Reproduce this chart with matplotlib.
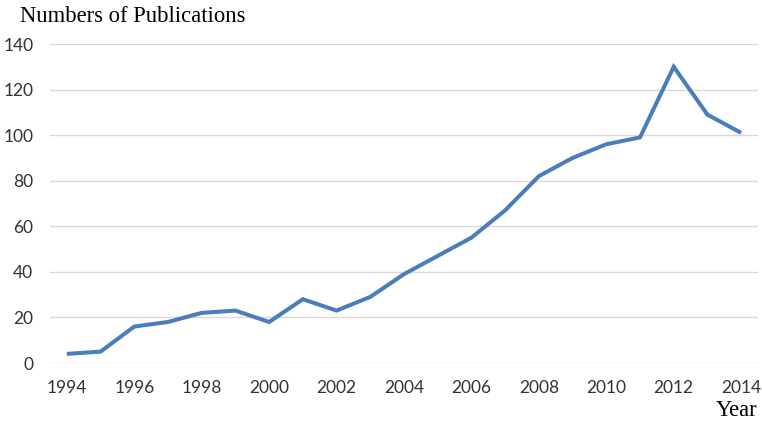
import matplotlib
matplotlib.use("Agg")
import matplotlib.pyplot as plt

years = list(range(1994, 2015))
publications = [4, 5, 16, 18, 22, 23, 18, 28, 23, 29, 39, 47, 55, 67, 82, 90, 96, 99, 130, 109, 101]
x_ticks = list(range(1994, 2015, 2))
y_ticks = list(range(0, 141, 20))

fig = plt.figure(figsize=(7.62, 4.22), dpi=100)
ax = fig.add_axes([50/762, 1-363/422, 708/762, 319/422])

ax.plot(years, publications, color="#4A7EBB", linewidth=2.9, solid_capstyle="butt", solid_joinstyle="miter", zorder=3)

ax.set_xlim(1993.5, 2014.5)
ax.set_ylim(0, 140)
ax.set_xticks(x_ticks)
ax.set_yticks(y_ticks)
ax.set_xticklabels([str(t) for t in x_ticks], fontfamily="Lato", fontsize=12.5, color="#333333")
ax.set_yticklabels([str(t) for t in y_ticks], fontfamily="Lato", fontsize=12.5, color="#333333")
ax.tick_params(axis="both", length=0)
ax.tick_params(axis="x", pad=12)
ax.tick_params(axis="y", pad=12)
ax.grid(axis="y", color="#D9D9D9", linewidth=1.0)
ax.set_axisbelow(True)
for s in ax.spines.values():
    s.set_visible(False)

fig.text(20/762, 1-17/422, "Numbers of Publications", fontfamily="Liberation Serif", fontsize=16.3, va="center", ha="left")
fig.text(757/762, 1-411/422, "Year", fontfamily="Liberation Serif", fontsize=16.3, va="center", ha="right")

fig.savefig("out.png", dpi=100)
